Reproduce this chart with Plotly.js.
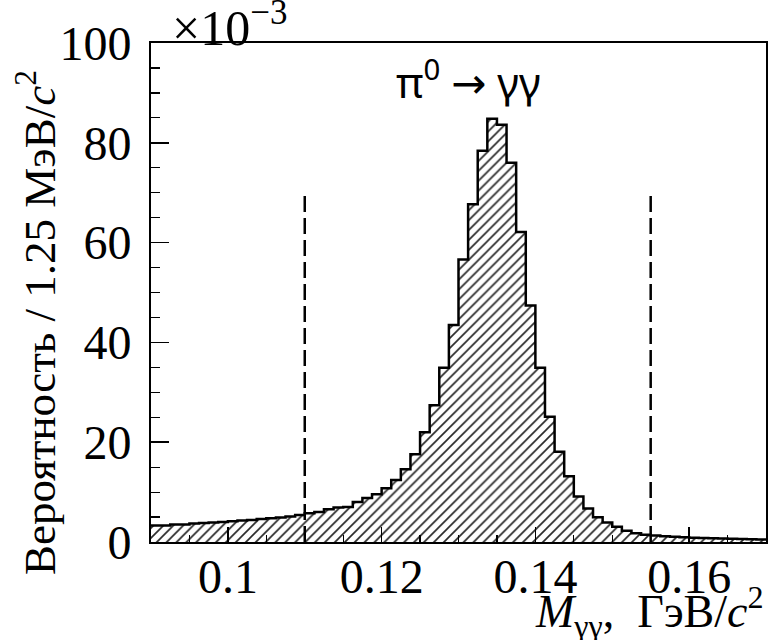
<!DOCTYPE html>
<html>
<head>
<meta charset="utf-8">
<script src="https://cdn.plot.ly/plotly-3.0.1.min.js"></script>
<style>html,body{margin:0;padding:0;background:#fff;}#chart{width:779px;height:640px;}</style>
</head>
<body>
<div id="chart"></div>
<script>
// Histogram of M_gamma_gamma, bin width 1.25 MeV/c^2, range 0.09 - 0.17 GeV/c^2
const xMin = 0.09;
const binWidth = 0.00125;
// probability per bin, units of 1e-3
const counts = [
  3.3, 3.3, 3.5, 3.5, 3.7, 3.8, 3.9, 4.0, 4.15, 4.3, 4.4, 4.6, 4.75, 4.9, 5.1, 5.4,
  5.75, 6.0, 6.55, 6.9, 7.0, 8.0, 8.8, 9.55, 10.75, 12.4, 14.6, 17.6, 22.0, 27.4,
  34.9, 43.5, 56.6, 67.7, 78.4, 84.8, 83.6, 76.0, 62.1, 47.4, 34.9,
  25.1, 18.1, 13.2, 9.1, 6.7, 4.95, 3.9, 3.07, 2.27, 1.74, 1.47,
  1.3, 1.15, 1.05, 0.95, 0.85, 0.8, 0.75, 0.7, 0.65, 0.6, 0.55, 0.5
];
// selection cuts (dashed lines)
const cutValues = [0.11, 0.155];
const cutHeight = [0, 70];

const xTickVals = [0.1, 0.12, 0.14, 0.16];
const xTickText = ['0.1', '0.12', '0.14', '0.16'];
const yTickVals = [0, 20, 40, 60, 80, 100];
const yTickText = ['0', '20', '40', '60', '80', '100'];

const centers = counts.map((_, i) => xMin + (i + 0.5) * binWidth);
const edges = counts.map((_, i) => xMin + i * binWidth);
const stepX = edges.concat([xMin + counts.length * binWidth]);
const stepY = counts.concat([counts[counts.length - 1]]);

const traces = [
  {
    type: 'bar', x: centers, y: counts, width: binWidth,
    marker: {
      color: '#ffffff',
      line: {width: 0},
      pattern: {shape: '/', size: 7, solidity: 0.24, fgcolor: '#2a2a2a', bgcolor: '#ffffff', fillmode: 'replace'}
    },
    hoverinfo: 'skip', showlegend: false
  },
  {
    type: 'scatter', mode: 'lines', x: stepX, y: stepY,
    line: {shape: 'hv', color: '#000', width: 2.5},
    hoverinfo: 'skip', showlegend: false
  }
];
cutValues.forEach(c => {
  traces.push({
    type: 'scatter', mode: 'lines', x: [c, c], y: cutHeight,
    line: {color: '#000', width: 2.5, dash: '16px,6px'},
    hoverinfo: 'skip', showlegend: false
  });
});

const layout = {
  width: 779, height: 640,
  margin: {l: 151, r: 13, t: 43, b: 98},
  paper_bgcolor: '#fff', plot_bgcolor: '#fff',
  bargap: 0,
  showlegend: false,
  font: {family: 'Liberation Serif', size: 40, color: '#000'},
  xaxis: {
    range: [0.09, 0.17], showgrid: false, zeroline: false,
    showline: true, linecolor: '#000', linewidth: 2, mirror: true,
    ticks: 'inside', ticklen: 15, tickwidth: 1.5, tickcolor: '#000',
    tickvals: xTickVals, ticktext: xTickText,
    minor: {ticks: 'inside', dtick: 0.005, tick0: 0, ticklen: 7, tickwidth: 1.2, tickcolor: '#000', showgrid: false},
    tickfont: {family: 'Liberation Serif', size: 48, color: '#000'},
    ticklabelstandoff: -9
  },
  yaxis: {
    range: [0, 100], showgrid: false, zeroline: false,
    showline: true, linecolor: '#000', linewidth: 2, mirror: true,
    ticks: 'inside', ticklen: 18, tickwidth: 1.5, tickcolor: '#000',
    tickvals: yTickVals, ticktext: yTickText,
    minor: {ticks: 'inside', dtick: 5, tick0: 0, ticklen: 9, tickwidth: 1.2, tickcolor: '#000', showgrid: false},
    tickfont: {family: 'Liberation Serif', size: 48, color: '#000'},
    ticklabelstandoff: 8
  },
  annotations: [
    {
      text: 'π<sup>0</sup> <span style="font-family:DejaVu Sans">→</span> γγ', xref: 'paper', yref: 'paper',
      x: (468 - 151) / 615, y: (542 - 80) / 499, xanchor: 'center', yanchor: 'middle',
      showarrow: false, font: {family: 'Noto Sans', size: 42, color: '#000'}
    },
    {
      text: '×10<sup>−3</sup>', xref: 'paper', yref: 'paper',
      x: (170 - 151) / 615, y: (542 - 24) / 499, xanchor: 'left', yanchor: 'middle',
      showarrow: false, font: {family: 'Liberation Serif', size: 50, color: '#000'}
    },
    {
      text: 'Вероятность / 1.25 МэВ/<i>c</i><sup>2</sup>', xref: 'paper', yref: 'paper',
      x: (36 - 151) / 615, y: (542 - 323) / 499, xanchor: 'center', yanchor: 'middle',
      textangle: -90, showarrow: false, font: {family: 'Liberation Serif', size: 45, color: '#000'}
    },
    {
      text: '<i>M</i><sub>γγ</sub>,  ГэВ/<i>c</i><sup>2</sup>', xref: 'paper', yref: 'paper',
      x: 1, y: (542 - 611) / 499, xanchor: 'right', yanchor: 'middle',
      showarrow: false, font: {family: 'Liberation Serif', size: 46, color: '#000'}
    }
  ]
};

Plotly.newPlot('chart', traces, layout, {staticPlot: true, displayModeBar: false});
</script>
</body>
</html>
